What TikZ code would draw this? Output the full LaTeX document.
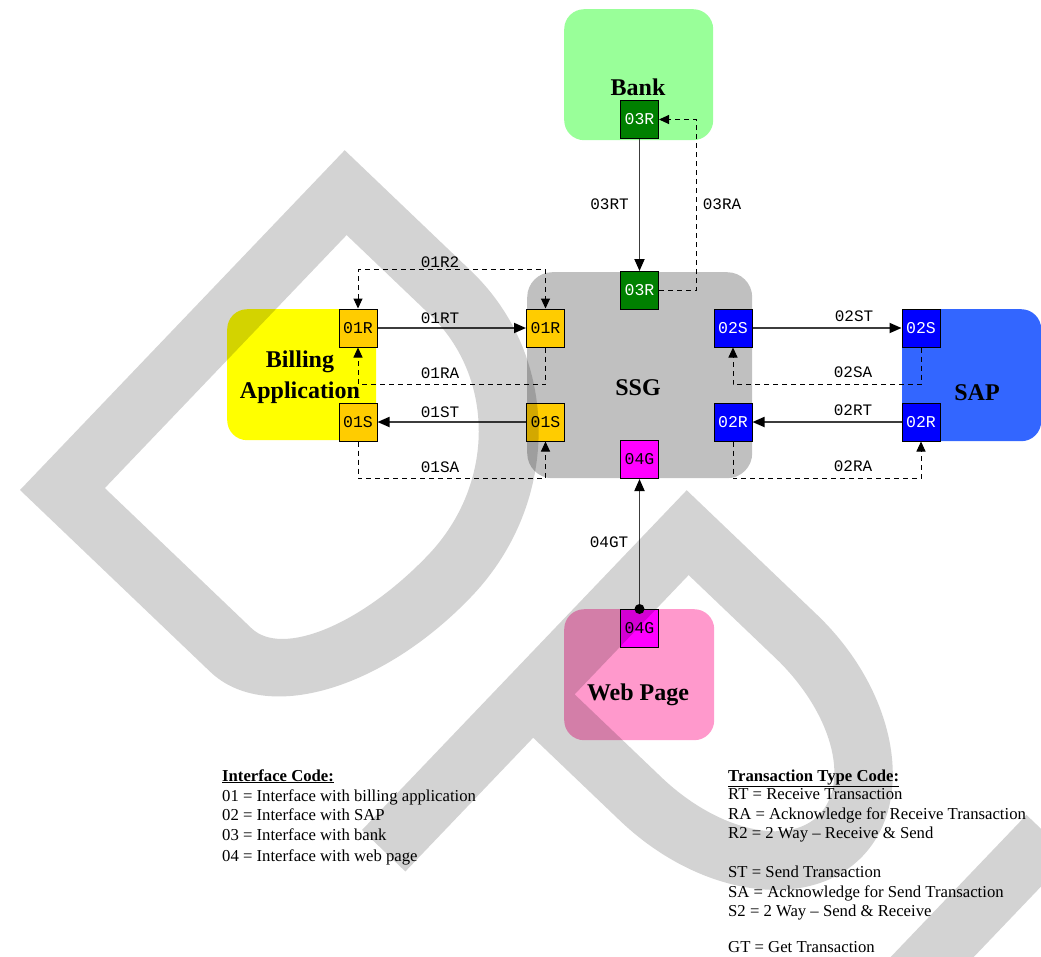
\documentclass[tikz,border=0pt]{standalone}
\usepackage{fontspec}
\setmainfont{Liberation Serif}
\newfontfamily\portfont{Liberation Mono}
\usetikzlibrary{arrows.meta}

\definecolor{bankgreen}{RGB}{153,255,153}
\definecolor{ssggray}{RGB}{192,192,192}
\definecolor{billyellow}{RGB}{255,255,0}
\definecolor{sapblue}{RGB}{51,102,255}
\definecolor{webpink}{RGB}{255,153,204}
\definecolor{portorange}{RGB}{255,204,0}
\definecolor{portblue}{RGB}{0,0,255}
\definecolor{portgreen}{RGB}{0,128,0}
\definecolor{portmag}{RGB}{255,0,255}
\definecolor{wire}{RGB}{60,60,60}

\tikzset{
  sysbox/.style={draw=none, rounded corners=20pt, inner sep=0pt, anchor=north west},
  port/.style={draw=black, line width=1pt, minimum size=38pt, inner sep=0pt,
    font=\portfont\fontsize{16.5}{16.5}\selectfont},
  bigname/.style={font=\bfseries\fontsize{24}{31}\selectfont, inner sep=0pt},
  wirelabel/.style={font=\portfont\fontsize{16}{16}\selectfont, inner sep=0pt},
  solidcon/.style={draw=wire, line width=1.8pt, -{Triangle[length=12pt,width=10pt,color=black]}},
  dashcon/.style={draw=black, line width=1pt, dash pattern=on 5pt off 4pt},
  legend/.style={font=\fontsize{16.7}{19.5}\selectfont, inner sep=0pt, anchor=base west},
  wmark/.style={fill=black, fill opacity=0.172, even odd rule},
}

\begin{document}
\begin{tikzpicture}[x=1pt,y=-1pt]
\useasboundingbox (0,0) rectangle (1041,956);

% system boxes
\node[sysbox, fill=bankgreen, minimum width=149pt, minimum height=131pt] (bank) at (564,9) {};
\node[sysbox, fill=ssggray, rounded corners=25pt, minimum width=225pt, minimum height=206pt] (ssg) at (527,272) {};
\node[sysbox, fill=billyellow, minimum width=149pt, minimum height=131pt] (bill) at (227,309) {};
\node[sysbox, fill=sapblue, minimum width=139pt, minimum height=132pt] (sap) at (902,309) {};
\node[sysbox, fill=webpink, minimum width=150pt, minimum height=131pt] (web) at (564,609) {};

% names
\node[bigname, anchor=base] (banklbl) at (638,95) {Bank};
\node[bigname, anchor=base] (ssglbl) at (638,395) {SSG};
\node[bigname, align=center] (billlbl) at (300,377) {Billing\\Application};
\node[bigname, anchor=base] (saplbl) at (977,400) {SAP};
\node[bigname, anchor=base] (weblbl) at (638,700) {Web Page};

% ports
\node[port, fill=portgreen, text=white] (bank03R) at (639.5,119.5) {03R};
\node[port, fill=portgreen, text=white] (ssg03R) at (639.5,290.5) {03R};
\node[port, fill=portmag] (ssg04G) at (639.5,459.5) {04G};
\node[port, fill=portmag] (web04G) at (639.5,628.5) {04G};
\node[port, fill=portorange] (bill01R) at (358,328) {01R};
\node[port, fill=portorange] (bill01S) at (358,422) {01S};
\node[port, fill=portorange] (ssg01R) at (545.5,328) {01R};
\node[port, fill=portorange] (ssg01S) at (545.5,422) {01S};
\node[port, fill=portblue, text=white] (ssg02S) at (733,328) {02S};
\node[port, fill=portblue, text=white] (ssg02R) at (733,422) {02R};
\node[port, fill=portblue, text=white] (sap02S) at (921,328) {02S};
\node[port, fill=portblue, text=white] (sap02R) at (921,422) {02R};

% solid connectors
\draw[solidcon] (bill01R) -- (ssg01R);
\draw[solidcon] (ssg01S) -- (bill01S);
\draw[solidcon] (bank03R) -- (ssg03R);
\draw[solidcon] (ssg02S) -- (sap02S);
\draw[solidcon] (sap02R) -- (ssg02R);
\draw[solidcon] (web04G.north) -- (ssg04G);
\fill[black] (web04G.north) circle (5pt);

% dashed connectors
\draw[dashcon, {Triangle[length=10pt,width=9pt]}-{Triangle[length=10pt,width=9pt]}] (bill01R.north) -- ++(0,-39) -| (ssg01R.north);
\draw[dashcon, -{Triangle[length=10pt,width=9pt]}] (ssg01R.south) -- ++(0,37) -| (bill01R.south);
\draw[dashcon, -{Triangle[length=10pt,width=9pt]}] (bill01S.south) -- ++(0,37) -| (ssg01S.south);
\draw[dashcon, -{Triangle[length=10pt,width=9pt]}] (ssg03R.east) -- ++(37.5,0) |- (bank03R.east);
\draw[dashcon, -{Triangle[length=10pt,width=9pt]}] (sap02S.south) -- ++(0,37) -| (ssg02S.south);
\draw[dashcon, -{Triangle[length=10pt,width=9pt]}] (ssg02R.south) -- ++(0,37) -| (sap02R.south);

% connector labels
\node[wirelabel] (l01R2) at (440,262) {01R2};
\node[wirelabel] (l01RT) at (440,318) {01RT};
\node[wirelabel] (l01RA) at (440,373) {01RA};
\node[wirelabel] (l01ST) at (440,412) {01ST};
\node[wirelabel] (l01SA) at (440,467) {01SA};
\node[wirelabel] (l03RT) at (609.5,204) {03RT};
\node[wirelabel] (l03RA) at (722,204) {03RA};
\node[wirelabel] (l02ST) at (854,316) {02ST};
\node[wirelabel] (l02SA) at (853,372) {02SA};
\node[wirelabel] (l02RT) at (853,410) {02RT};
\node[wirelabel] (l02RA) at (853,466) {02RA};
\node[wirelabel] (l04GT) at (609,542) {04GT};

% legends
\node[legend] (ic0) at (222,781) {\underline{\textbf{Interface Code:}}};
\node[legend] (ic1) at (222,801) {01 = Interface with billing application};
\node[legend] (ic2) at (222,820) {02 = Interface with SAP};
\node[legend] (ic3) at (222,840) {03 = Interface with bank};
\node[legend] (ic4) at (222,861) {04 = Interface with web page};

\node[legend] (tt0) at (728,781) {\underline{\textbf{Transaction Type Code:}}};
\node[legend] (tt1) at (728,799) {RT = Receive Transaction};
\node[legend] (tt2) at (728,819) {RA = Acknowledge for Receive Transaction};
\node[legend] (tt3) at (728,838) {R2 = 2 Way -- Receive \& Send};
\node[legend] (tt4) at (728,877) {ST = Send Transaction};
\node[legend] (tt5) at (728,897) {SA = Acknowledge for Send Transaction};
\node[legend] (tt6) at (728,916) {S2 = 2 Way -- Send \& Receive};
\node[legend] (tt7) at (728,952) {GT = Get Transaction};

% watermark
\begin{scope}
\clip (0,0) rectangle (1041,956);
\begin{scope}[shift={(20pt,-490pt)}, rotate=-43.7, x=1pt, y=1pt]
\fill[wmark] (0,0) -- (0,470) -- (175,470) .. controls (299,470) and (400,365) .. (400,235)
  .. controls (400,105) and (339,0) .. (263,0) -- cycle
  (60,60) -- (60,410) -- (175,410) .. controls (266,410) and (340,332) .. (340,235)
  .. controls (340,138) and (305,60) .. (263,60) -- cycle;
\end{scope}
\begin{scope}[shift={(362pt,-830pt)}, rotate=-43.7, x=1pt, y=1pt]
\fill[wmark] (0,0) -- (0,470) -- (180,470) .. controls (290,470) and (380,405) .. (380,327)
  .. controls (380,249) and (290,185) .. (180,185) -- (60,185) -- (60,0) -- cycle
  (60,245) -- (60,410) -- (180,410) .. controls (257,410) and (320,373) .. (320,327)
  .. controls (320,282) and (257,245) .. (180,245) -- cycle;
\fill[wmark] (470,0) rectangle (530,470);
\end{scope}
\end{scope}
\end{tikzpicture}
\end{document}
